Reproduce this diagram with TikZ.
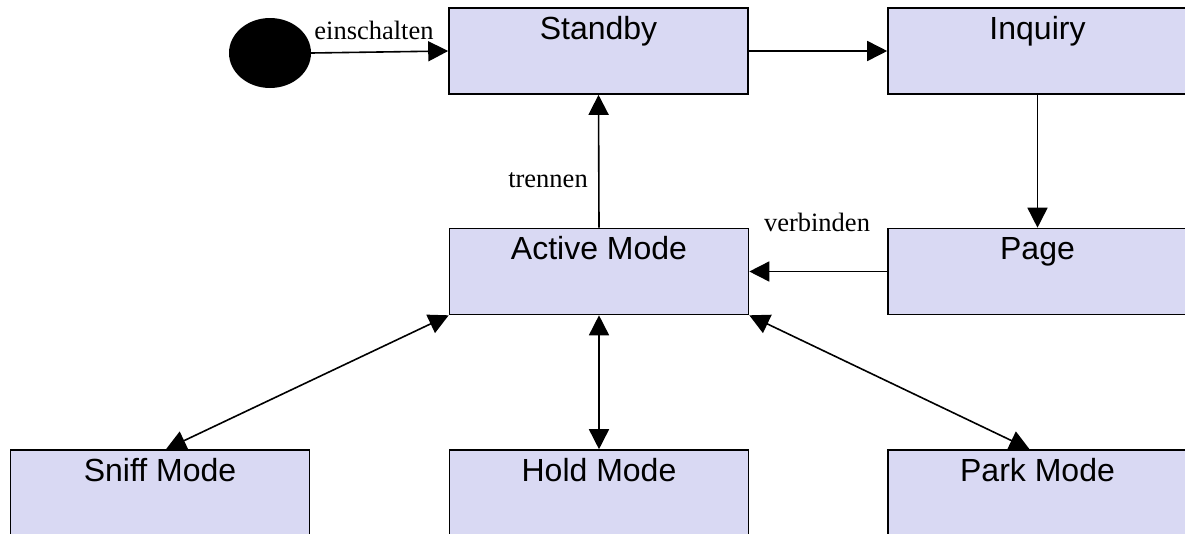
\documentclass[tikz,border=0pt]{standalone}
\usepackage{fontspec}
\setmainfont{Liberation Serif}
\setsansfont{Liberation Sans}
\usetikzlibrary{arrows.meta,shapes.geometric}

\definecolor{statefill}{RGB}{217,217,243}

\begin{document}
\begin{tikzpicture}[x=1pt,y=-1pt]
\tikzstyle{state} = [shape = rectangle,draw = black,line width = 1.6pt,fill = statefill,minimum width = 299pt,inner sep = 0pt,text height = 31pt,text depth = 55pt,font = \sffamily\fontsize{32}{32}\selectfont]
\tikzstyle{trans} = [line width = 1.6pt,-{Triangle[length=20pt,width=20pt]}]
\tikzstyle{both} = [line width = 1.6pt,{Triangle[length=20pt,width=20pt]}-{Triangle[length=20pt,width=20pt]}]
\tikzstyle{lbl} = [font = \fontsize{26.5}{26.5}\selectfont,inner sep = 0pt]

\clip (0,0) rectangle (1185,533);

\node[shape = ellipse,fill = black,minimum width = 82pt,minimum height = 70pt,inner sep = 0pt] (start) at (270,53) {};

\node[state] (standby) at (598.5,51) {Standby};
\node[state] (inquiry) at (1037.5,51) {Inquiry};
\node[state] (active) at (599,271.5) {Active Mode};
\node[state] (page) at (1037.5,271.5) {Page};

\node[state] (sniff) at (160,493) {Sniff Mode};
\node[state] (hold) at (599,493) {Hold Mode};
\node[state] (park) at (1037.5,493) {Park Mode};

% transitions
\draw[trans] (start.east) -- (standby.west);
\draw[trans] (standby.east) -- (inquiry.west);
\draw[trans] (inquiry.south) -- (page.north);
\draw[trans] (page.west) -- (active.east);
\draw[trans] (active.north) -- (standby.south);

\draw[both] (active.south west) -- ([xshift=6pt]sniff.north);
\draw[both] (active.south) -- (hold.north);
\draw[both] (active.south east) -- ([xshift=-8pt]park.north);

\node[lbl] (ein) at (374,30) {einschalten};
\node[lbl] (trn) at (548,180) {trennen};
\node[lbl] (vbd) at (817,222) {verbinden};

\end{tikzpicture}
\end{document}
